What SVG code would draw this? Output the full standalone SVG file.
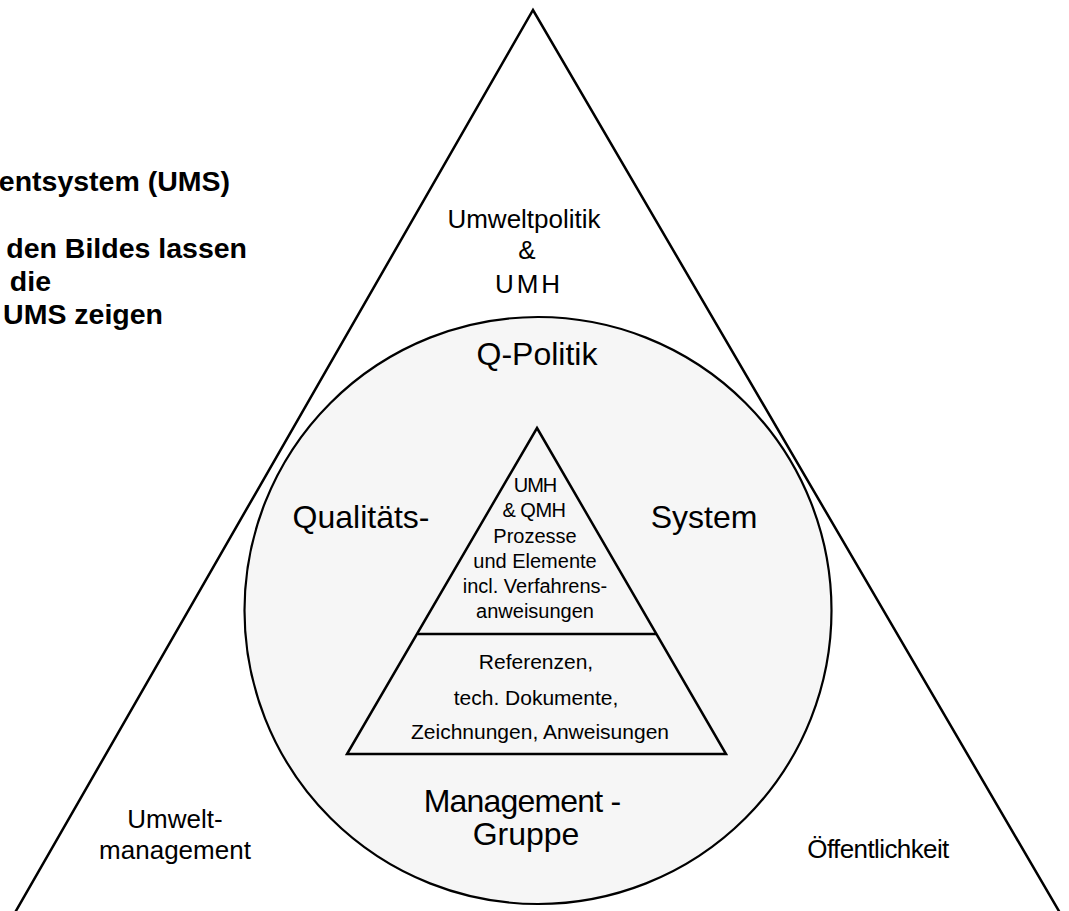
<svg xmlns="http://www.w3.org/2000/svg" width="1069" height="911" viewBox="0 0 1069 911">
<style>
text{font-family:"Liberation Sans",Arial,sans-serif;fill:#000;text-anchor:middle}
.ln{fill:none;stroke:#000;stroke-width:2.5;stroke-linejoin:miter}
.b{font-weight:bold;font-size:28.5px;text-anchor:end}
.big{font-size:32px}
.mid{font-size:26px}
.sm{font-size:20px}
.sm2{font-size:21px}
</style>
<rect width="1069" height="911" fill="#fff"/>
<g id="title">
<text class="b" x="230" y="191">entsystem (UMS)</text>
<text class="b" x="247" y="258">den Bildes lassen</text>
<text class="b" x="51" y="291">die</text>
<text class="b" x="163" y="324">UMS zeigen</text>
</g>
<g id="outer-triangle">
<path class="ln" d="M5,930 L533,10 L1070,930"/>
<text class="mid" x="524" y="228">Umweltpolitik</text>
<text class="mid" x="527" y="259">&amp;</text>
<text class="mid" x="529" y="293" letter-spacing="3">UMH</text>
<text class="mid" x="175" y="828">Umwelt-</text>
<text class="mid" x="175" y="859">management</text>
<text class="mid" x="878" y="858" letter-spacing="-0.6">Öffentlichkeit</text>
</g>
<g id="circle">
<circle cx="538" cy="610.5" r="293.5" fill="#f6f6f6" stroke="#000" stroke-width="2.2"/>
<text class="big" x="537" y="365">Q-Politik</text>
<text class="big" x="361" y="528">Qualitäts-</text>
<text class="big" x="704" y="528">System</text>
<text class="big" x="522" y="812" letter-spacing="-0.8">Management -</text>
<text class="big" x="526" y="845">Gruppe</text>
</g>
<g id="pyramid">
<polygon class="ln" points="537,428 726,754 347,754" fill="#fff"/>
<line class="ln" x1="418" y1="634" x2="656" y2="634"/>
<text class="sm" x="535" y="492" letter-spacing="-1">UMH</text>
<text class="sm" x="534" y="517" letter-spacing="-0.5">&amp; QMH</text>
<text class="sm" x="535" y="543">Prozesse</text>
<text class="sm" x="535" y="568">und Elemente</text>
<text class="sm" x="535" y="593">incl. Verfahrens-</text>
<text class="sm" x="535" y="618">anweisungen</text>
<text class="sm2" x="536" y="669">Referenzen,</text>
<text class="sm2" x="536" y="705">tech. Dokumente,</text>
<text class="sm2" x="540" y="739">Zeichnungen, Anweisungen</text>
</g>
</svg>
